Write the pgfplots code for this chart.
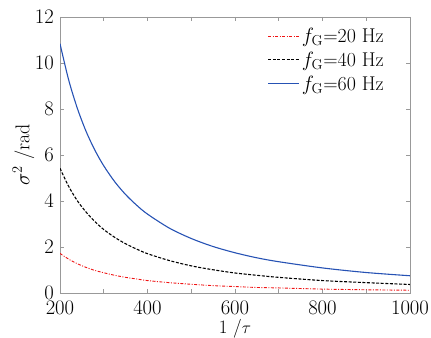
\documentclass[border=0pt]{standalone}
\usepackage{pgfplots}
\pgfplotsset{compat=1.18}
\definecolor{myblue}{RGB}{38,82,180}
\definecolor{myred}{RGB}{240,20,20}
\begin{document}
\begin{tikzpicture}
\begin{axis}[
  scale only axis,
  width=350bp, height=276bp,
  at={(60bp,45bp)}, anchor=south west,
  xmin=200, xmax=1000, ymin=0, ymax=12,
  xtick={200,400,600,800,1000},
  minor xtick={300,500,700,900},
  ytick={0,2,4,6,8,10,12},
  tick align=inside,
  major tick length=4bp, minor tick length=4bp,
  axis line style={gray!80},
  every tick/.style={gray!80, line width=0.6pt},
  tick label style={font=\fontsize{20}{24}\selectfont},
  label style={font=\fontsize{20}{24}\selectfont},
  xticklabel style={inner sep=1bp, yshift=-7bp},
  yticklabel style={inner sep=1bp, xshift=-5bp},
  scaled ticks=false,
  xticklabel={\pgfmathprintnumber[fixed,precision=0,1000 sep={}]{\tick}},
  xlabel={1 /$\tau$},
  ylabel={$\sigma^2$ /rad},
  xlabel style={at={(axis description cs:0.5,0)}, anchor=base, yshift=-40bp,
    inner sep=0.5bp, font=\fontsize{19}{22}\selectfont},
  ylabel style={yshift=-4bp},
  legend style={at={(0.94,0.975)}, anchor=north east, draw=none, fill=none,
    font=\fontsize{20}{24}\selectfont, row sep=4bp,
    /tikz/every even column/.append style={column sep=0pt}},
  legend cell align=left,
  legend image code/.code={\draw[#1] (0bp,0bp) -- (31bp,0bp);},
]
\addplot[myred, line width=0.9pt, smooth, dash pattern=on 3pt off 1.5pt on 1pt off 1.5pt] coordinates {
(200,1.72)(220,1.47)(240,1.27)(260,1.11)(280,0.98)(300,0.88)(325,0.77)(350,0.68)(375,0.61)(400,0.54)(450,0.45)(500,0.38)(550,0.32)(600,0.28)(650,0.24)(700,0.22)(800,0.17)(900,0.14)(1000,0.12)};
\addlegendentry{$f_{\mathrm{G}}$=20 Hz}
\addplot[black, line width=1.1pt, smooth, dash pattern=on 3pt off 1.6pt] coordinates {
(200,5.42)(220,4.63)(240,4.00)(260,3.51)(280,3.10)(300,2.76)(325,2.42)(350,2.14)(375,1.91)(400,1.71)(450,1.41)(500,1.18)(550,1.01)(600,0.87)(650,0.77)(700,0.68)(800,0.54)(900,0.45)(1000,0.37)};
\addlegendentry{$f_{\mathrm{G}}$=40 Hz}
\addplot[myblue, line width=1.1pt, smooth] coordinates {
(200,10.84)(220,9.25)(240,8.01)(260,7.01)(280,6.20)(300,5.53)(325,4.84)(350,4.28)(375,3.82)(400,3.43)(450,2.82)(500,2.37)(550,2.02)(600,1.75)(650,1.53)(700,1.36)(800,1.09)(900,0.89)(1000,0.75)};
\addlegendentry{$f_{\mathrm{G}}$=60 Hz}
\end{axis}
\pgfresetboundingbox
\path[use as bounding box] (0,0) rectangle (431bp,338bp);
\end{tikzpicture}
\end{document}
